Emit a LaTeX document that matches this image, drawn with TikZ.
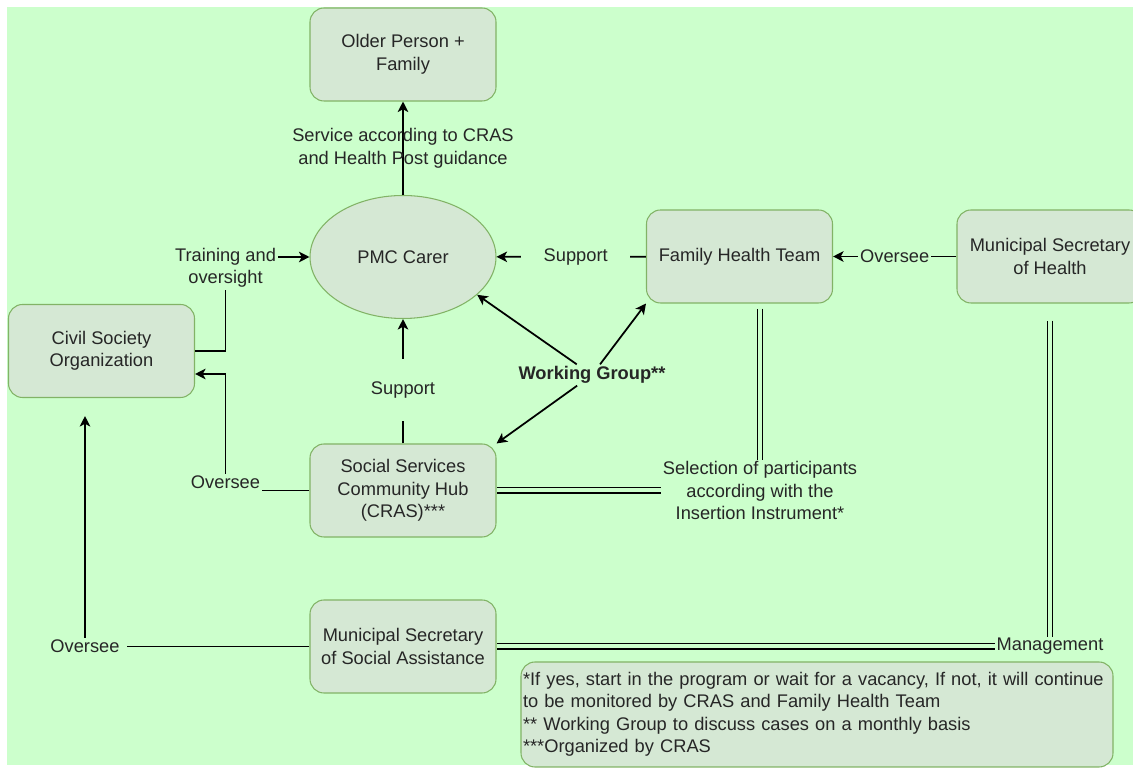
\documentclass[tikz,border=0pt]{standalone}
\usepackage{fontspec}
\setmainfont{Liberation Sans}
\usepackage{tikz}
\usetikzlibrary{arrows.meta,shapes.geometric}
\definecolor{bggreen}{HTML}{CCFFCC}
\definecolor{boxfill}{HTML}{D5E8D4}
\definecolor{boxline}{HTML}{82B366}

\begin{document}
\begin{tikzpicture}[inner sep=1pt, >={Stealth[length=6pt,width=6pt,inset=1.6pt]},
   every node/.style={font=\fontsize{10.4}{12.8}\selectfont, text=black!85},
   box/.style={draw=boxline, fill=boxfill, line width=0.6pt, rounded corners=0.28cm,
     minimum width=3.72cm, minimum height=1.86cm, align=center},
   oval/.style={ellipse, draw=boxline, fill=boxfill, line width=0.6pt,
     minimum width=3.72cm, minimum height=2.46cm},
   lbl/.style={fill=bggreen, inner sep=1pt, align=center},
   gap/.style={inner xsep=0.45cm, inner ysep=0.45cm},
   arr/.style={->, line width=1pt},
   dbl/.style={draw=black, double=bggreen, double distance=0.08cm, line width=0.75pt}
   ]

   \useasboundingbox (0,0) rectangle (22.66,15.36);
   \fill[bggreen] (0.14,0.06) rectangle (22.66,15.22);

   \path (8.06,14.27) node[box] (older) {Older Person +\\Family}
   (8.06,10.22) node[oval] (pmc) {PMC Carer};
   \path (14.79,10.23) node[box] (fht) {Family Health Team}
   (21.00,10.23) node[box] (msh) {Municipal Secretary\\of Health};
   \path (2.03,8.34) node[box] (cso) {Civil Society\\Organization}
   (8.06,5.55) node[box] (cras) {Social Services\\Community Hub\\(CRAS)***};
   \path (8.06,2.43) node[box] (mssa) {Municipal Secretary\\of Social Assistance}
   (11.84,7.86) node[font=\fontsize{10.4}{12.8}\selectfont\bfseries] (wg) {Working Group**};
   \path (16.34,1.07) node[box, text width=11.76cm, align=left, inner sep=0.04cm,
     minimum height=2.1cm] (notes)
     {*If yes, start in the program or wait for a vacancy, If not, it will continue\\
      to be monitored by CRAS and Family Health Team\\
      \relax** Working Group to discuss cases on a monthly basis\\
      \relax***Organized by CRAS};

   \draw[arr] (pmc) -- node[align=center] {Service according to CRAS\\and Health Post guidance} (older);

   \draw[arr] (cso.east) -- ++(0.61,0) |- node[lbl, pos=.5, yshift=-0.22cm] {Training and\\oversight} (pmc.west);
   \draw[arr] (cras.west) -| node[lbl, pos=.5, yshift=0.16cm] {Oversee} ([xshift=0.61cm,yshift=-0.46cm]cso.east) -- ([yshift=-0.46cm]cso.east);
   \draw[arr] (mssa.west) -| node[lbl, pos=.5, inner xsep=4pt] {Oversee} ([xshift=-0.33cm,yshift=-0.36cm]cso.south);

   \draw[arr] (cras) -- node[lbl, gap, pos=.43] {Support} (pmc);
   \draw[arr] (fht) -- node[lbl, gap, pos=.47] {Support} (pmc);
   \draw[arr] (msh) -- node[lbl] {Oversee} (fht);

   \draw[arr] (wg) -- (pmc.-27);
   \draw[arr] (wg) -- (fht.south west);
   \draw[arr] (wg) -- (cras.north east);

   \draw[dbl] ([xshift=0.41cm,yshift=-0.1cm]fht.south) |- node[lbl, pos=.5] {Selection of participants\\according with the\\Insertion Instrument*} (cras.east);
   \draw[dbl] ([yshift=-0.34cm]msh.south) |- node[lbl, pos=.5] {Management} (mssa.east);

\end{tikzpicture}
\end{document}
